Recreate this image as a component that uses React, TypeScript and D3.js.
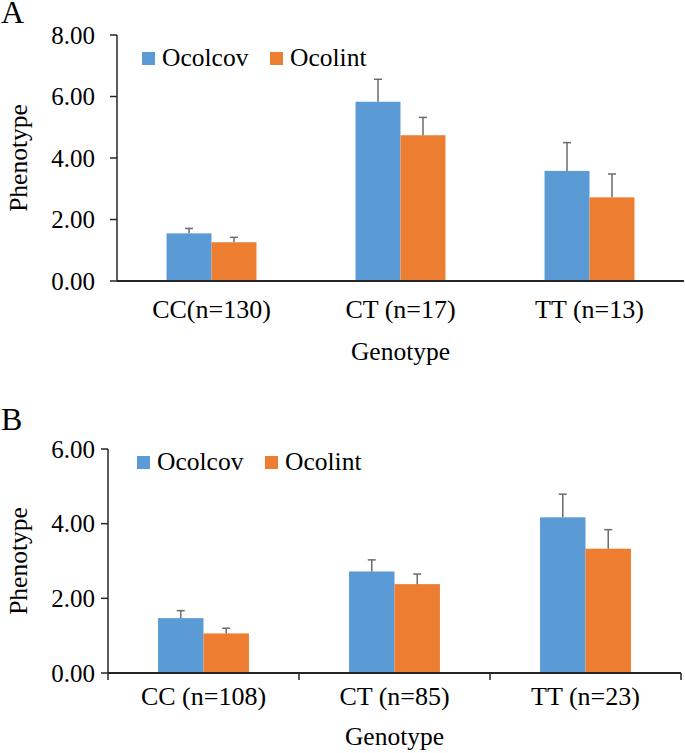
import React from "react";
import * as d3 from "d3";

const seriesNames = ["Ocolcov", "Ocolint"];
const seriesColors = ["#5B9BD5", "#ED7D31"];

const catsA = ["CC(n=130)", "CT (n=17)", "TT (n=13)"];
const ocolcovA = [1.55, 5.83, 3.58];
const ocolintA = [1.26, 4.74, 2.72];
const ocolcovErrA = [0.16, 0.73, 0.92];
const ocolintErrA = [0.16, 0.58, 0.76];
const ticksA = [0, 2, 4, 6, 8];

const catsB = ["CC (n=108)", "CT (n=85)", "TT (n=23)"];
const ocolcovB = [1.47, 2.72, 4.17];
const ocolintB = [1.06, 2.38, 3.33];
const ocolcovErrB = [0.2, 0.31, 0.62];
const ocolintErrB = [0.14, 0.27, 0.51];
const ticksB = [0, 2, 4, 6];

const FONT = "Liberation Serif, Times New Roman, serif";
const txt = (size: number) => ({ fontFamily: FONT, fontSize: size + "px" });

type PanelProps = {
  label: string;
  labelY: number;
  cats: string[];
  values: number[][];
  errs: number[][];
  ticks: number[];
  x0: number;
  x1: number;
  yTop: number;
  yBot: number;
  tickLabelGap: number;
  catTicks: boolean;
  catLabelY: number;
  titleY: number;
  yTitleCenter: number;
  legendX: number[];
  legendY: number;
};

function Panel(p: PanelProps) {
  const xCat = d3.scaleBand<string>().domain(p.cats).range([p.x0, p.x1]).paddingInner(0).paddingOuter(0);
  const y = d3.scaleLinear().domain([0, d3.max(p.ticks) as number]).range([p.yBot, p.yTop]);
  const groupW = xCat.bandwidth() * 0.476;
  const xSer = d3.scaleBand<string>().domain(seriesNames).range([0, groupW]).padding(0);
  const tickLen = 7;
  return (
    <g>
      <text x={1} y={p.labelY} style={txt(32)} fill="#000">{p.label}</text>
      {p.cats.map((c, ci) => {
        const gx = (xCat(c) as number) + xCat.bandwidth() / 2 - groupW / 2;
        return seriesNames.map((s, si) => {
          const v = p.values[si][ci];
          const bx = gx + (xSer(s) as number);
          const bw = xSer.bandwidth();
          const cx = bx + bw / 2;
          const ey = y(v + p.errs[si][ci]);
          return (
            <g key={c + s}>
              <rect x={bx} y={y(v)} width={bw} height={p.yBot - y(v)} fill={seriesColors[si]} />
              <line x1={cx} x2={cx} y1={y(v)} y2={ey} stroke="#6b6b6b" strokeWidth={1.5} />
              <line x1={cx - 4} x2={cx + 4} y1={ey} y2={ey} stroke="#6b6b6b" strokeWidth={1.5} />
            </g>
          );
        });
      })}
      <line x1={p.x0} x2={p.x0} y1={p.yTop} y2={p.catTicks ? p.yBot + tickLen : p.yBot} stroke="#262626" strokeWidth={1.5} />
      {p.ticks.map((t) => (
        <g key={t}>
          <line x1={p.x0 - tickLen} x2={p.x0} y1={y(t)} y2={y(t)} stroke="#262626" strokeWidth={1.5} />
          <text x={p.x0 - p.tickLabelGap} y={y(t)} dy="0.34em" textAnchor="end" style={txt(25)} fill="#000">
            {d3.format(".2f")(t)}
          </text>
        </g>
      ))}
      <line x1={p.x0} x2={p.x1} y1={p.yBot} y2={p.yBot} stroke="#262626" strokeWidth={2} />
      {p.catTicks &&
        p.cats.map((c) => {
          const xe = (xCat(c) as number) + xCat.bandwidth();
          return <line key={c} x1={xe} x2={xe} y1={p.yBot} y2={p.yBot + tickLen} stroke="#262626" strokeWidth={1.5} />;
        })}
      {p.cats.map((c) => (
        <text key={c} x={(xCat(c) as number) + xCat.bandwidth() / 2} y={p.catLabelY} textAnchor="middle" style={txt(26)} fill="#000">
          {c}
        </text>
      ))}
      <text x={(p.x0 + p.x1) / 2} y={p.titleY} textAnchor="middle" style={txt(25.5)} fill="#000">Genotype</text>
      <text transform={`translate(27,${p.yTitleCenter}) rotate(-90)`} textAnchor="middle" style={txt(25.5)} fill="#000">Phenotype</text>
      {seriesNames.map((s, si) => (
        <g key={s}>
          <rect x={p.legendX[si]} y={p.legendY - 14} width={13} height={13} fill={seriesColors[si]} />
          <text x={p.legendX[si] + 20} y={p.legendY} style={txt(25.5)} fill="#000">{s}</text>
        </g>
      ))}
    </g>
  );
}

export default function App() {
  return (
    <svg width={685} height={753} style={{ position: "absolute", left: 0, top: 0, background: "#fff" }}>
      <rect width={685} height={753} fill="#fff" />
      <Panel
        label="A"
        labelY={23}
        cats={catsA}
        values={[ocolcovA, ocolintA]}
        errs={[ocolcovErrA, ocolintErrA]}
        ticks={ticksA}
        x0={117}
        x1={684}
        yTop={35}
        yBot={281}
        tickLabelGap={22}
        catTicks={false}
        catLabelY={318}
        titleY={360}
        yTitleCenter={158}
        legendX={[142, 270]}
        legendY={66}
      />
      <Panel
        label="B"
        labelY={430}
        cats={catsB}
        values={[ocolcovB, ocolintB]}
        errs={[ocolcovErrB, ocolintErrB]}
        ticks={ticksB}
        x0={108}
        x1={681}
        yTop={449}
        yBot={673}
        tickLabelGap={13}
        catTicks={true}
        catLabelY={705}
        titleY={745}
        yTitleCenter={561}
        legendX={[137, 265]}
        legendY={470}
      />
    </svg>
  );
}
